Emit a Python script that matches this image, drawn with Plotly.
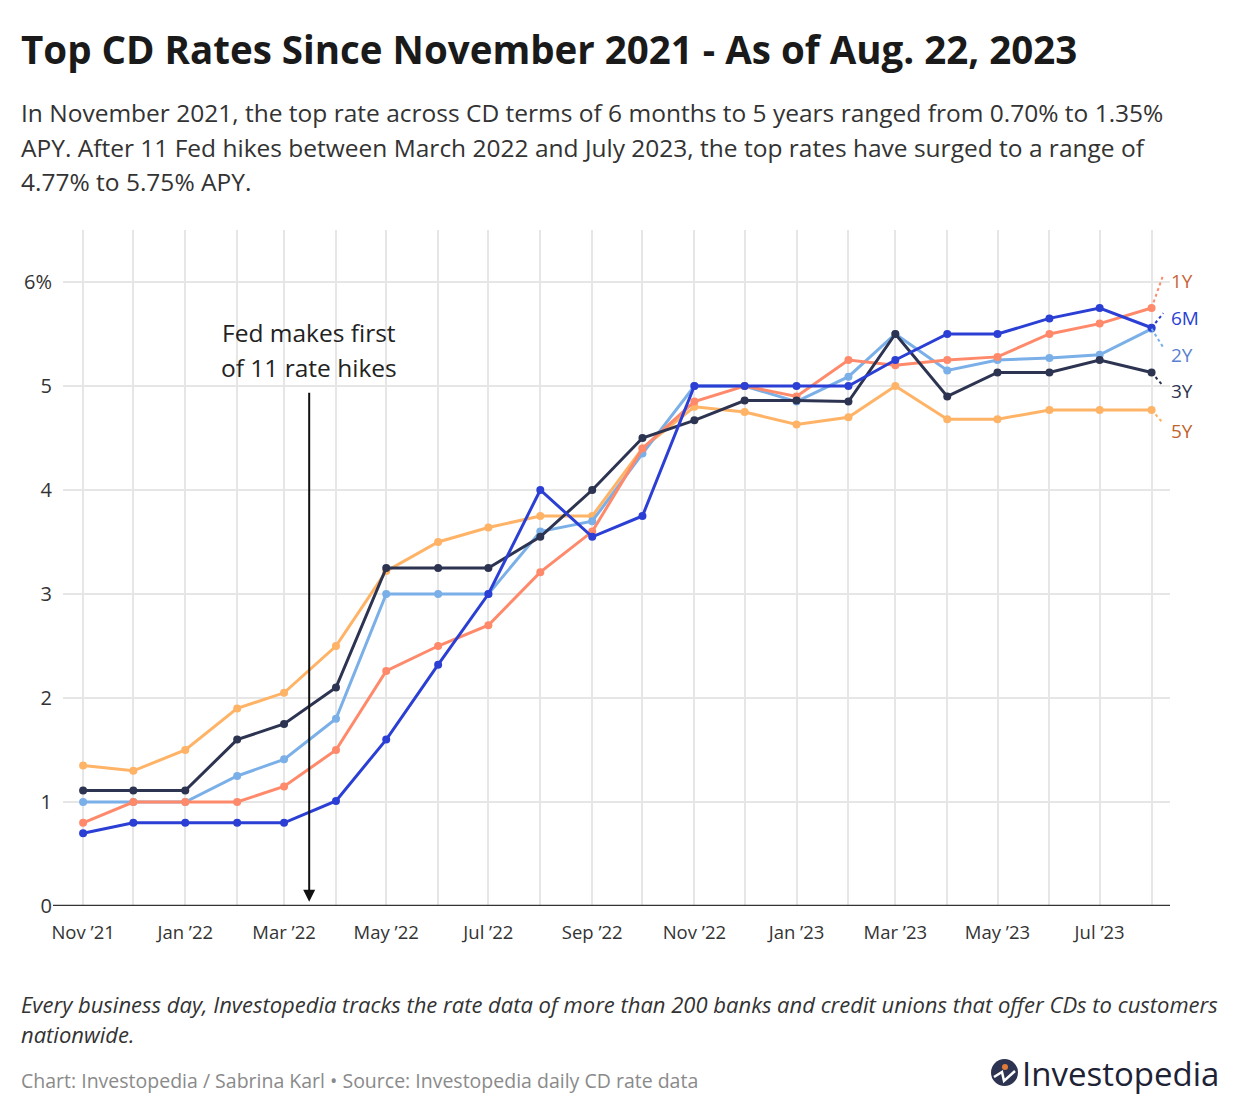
import plotly.graph_objects as go

# ---------------- data ----------------
months = ["2021-11-01", "2021-12-01", "2022-01-01", "2022-02-01", "2022-03-01", "2022-04-01",
          "2022-05-01", "2022-06-01", "2022-07-01", "2022-08-01", "2022-09-01", "2022-10-01",
          "2022-11-01", "2022-12-01", "2023-01-01", "2023-02-01", "2023-03-01", "2023-04-01",
          "2023-05-01", "2023-06-01", "2023-07-01", "2023-08-01"]

rate_6m = [0.70, 0.80, 0.80, 0.80, 0.80, 1.01, 1.60, 2.32, 3.00, 4.00, 3.55, 3.75,
           5.00, 5.00, 5.00, 5.00, 5.25, 5.50, 5.50, 5.65, 5.75, 5.56]
rate_1y = [0.80, 1.00, 1.00, 1.00, 1.15, 1.50, 2.26, 2.50, 2.70, 3.21, 3.60, 4.40,
           4.85, 5.00, 4.90, 5.25, 5.20, 5.25, 5.28, 5.50, 5.60, 5.75]
rate_2y = [1.00, 1.00, 1.00, 1.25, 1.41, 1.80, 3.00, 3.00, 3.00, 3.60, 3.70, 4.35,
           5.00, 5.00, 4.85, 5.09, 5.50, 5.15, 5.25, 5.27, 5.30, 5.55]
rate_3y = [1.11, 1.11, 1.11, 1.60, 1.75, 2.10, 3.25, 3.25, 3.25, 3.55, 4.00, 4.50,
           4.67, 4.86, 4.86, 4.85, 5.50, 4.90, 5.13, 5.13, 5.25, 5.13]
rate_5y = [1.35, 1.30, 1.50, 1.90, 2.05, 2.50, 3.22, 3.50, 3.64, 3.75, 3.75, 4.40,
           4.80, 4.75, 4.63, 4.70, 5.00, 4.68, 4.68, 4.77, 4.77, 4.77]

series_names = ["1Y", "6M", "2Y", "3Y", "5Y"]
x_tick_labels = ["Nov ’21", "", "Jan ’22", "", "Mar ’22", "", "May ’22", "", "Jul ’22", "",
                 "Sep ’22", "", "Nov ’22", "", "Jan ’23", "", "Mar ’23", "", "May ’23", "",
                 "Jul ’23", ""]
y_tick_vals = [0, 1, 2, 3, 4, 5, 6]
y_tick_labels = ["0", "1", "2", "3", "4", "5", "6%"]

fed_hike_date = "2022-03-16"
label_end_date = "2023-08-08"

title_text = "Top CD Rates Since November 2021 - As of Aug. 22, 2023"
subtitle_lines = [
    "In November 2021, the top rate across CD terms of 6 months to 5 years ranged from 0.70% to 1.35%",
    "APY. After 11 Fed hikes between March 2022 and July 2023, the top rates have surged to a range of",
    "4.77% to 5.75% APY.",
]
note_lines = [
    "Every business day, Investopedia tracks the rate data of more than 200 banks and credit unions that offer CDs to customers",
    "nationwide.",
]
fed_lines = ["Fed makes first", "of 11 rate hikes"]
credit_text = "Chart: Investopedia / Sabrina Karl • Source: Investopedia daily CD rate data"

# ---------------- styling ----------------
FONT = "Open Sans, sans-serif"
W, H = 1240, 1120
L, R, T, B = 63, 70, 230, 214
PW, PH = W - L - R, H - T - B


def px(x):
    return (x - L) / PW


def py(y):
    return (H - B - y) / PH


line_colors = {"6M": "#2b3fd4", "1Y": "#ff8a6b", "2Y": "#7aafe8", "3Y": "#2d3451", "5Y": "#ffb366"}
label_colors = {"6M": "#2b3fd4", "1Y": "#c8653a", "2Y": "#5b7fcf", "3Y": "#2d3451", "5Y": "#c0642e"}
label_y = {"1Y": 6.01, "6M": 5.65, "2Y": 5.30, "3Y": 4.95, "5Y": 4.57}
conn_end_y = {"1Y": 6.07, "6M": 5.70, "2Y": 5.37, "3Y": 5.00, "5Y": 4.64}

data = {"6M": rate_6m, "1Y": rate_1y, "2Y": rate_2y, "3Y": rate_3y, "5Y": rate_5y}
draw_order = ["5Y", "2Y", "1Y", "3Y", "6M"]

fig = go.Figure()
for name in draw_order:
    fig.add_trace(go.Scatter(
        x=months, y=data[name], mode="lines+markers", name=name,
        line=dict(color=line_colors[name], width=3),
        marker=dict(color=line_colors[name], size=8),
        hoverinfo="skip", showlegend=False, cliponaxis=False,
    ))

shapes = []
annotations = []

# connectors + end labels
for name in series_names:
    shapes.append(dict(type="line", xref="x", yref="y",
                       x0=months[-1], y0=data[name][-1], x1=label_end_date, y1=conn_end_y[name],
                       line=dict(color=line_colors[name], width=2, dash="dot")))
    annotations.append(dict(xref="paper", yref="y", x=px(1169), y=label_y[name],
                            xanchor="left", yanchor="middle", showarrow=False,
                            text=name, font=dict(family=FONT, size=19, color=label_colors[name])))

# x-axis baseline extended left
shapes.append(dict(type="line", xref="paper", yref="y", x0=px(53), x1=1, y0=0, y1=0,
                   line=dict(color="#333333", width=2.5), layer="above"))

# Fed annotation
for i, t in enumerate(fed_lines):
    annotations.append(dict(xref="x", yref="paper", x=fed_hike_date, y=py(333 + 34 * i), showarrow=False,
                            text=t, xanchor="center", yanchor="middle",
                            font=dict(family=FONT, size=24.5, color="#222222")))
annotations.append(dict(xref="x", yref="y", x=fed_hike_date, y=0.04,
                        axref="x", ayref="y", ax=fed_hike_date, ay=4.95,
                        text="", showarrow=True, arrowhead=2, arrowsize=1.2, arrowwidth=2,
                        arrowcolor="#111111"))

# Titles
annotations.append(dict(xref="paper", yref="paper", x=px(19), y=py(49), xanchor="left", yanchor="middle",
                        showarrow=False, text=f"<b>{title_text}</b>",
                        font=dict(family=FONT, size=38.5, color="#1a1a1a")))
for i, t in enumerate(subtitle_lines):
    annotations.append(dict(xref="paper", yref="paper", x=px(19), y=py(113 + 34 * i), xanchor="left",
                            yanchor="middle", showarrow=False, text=t,
                            font=dict(family=FONT, size=24.5, color="#333333")))
for i, t in enumerate(note_lines):
    annotations.append(dict(xref="paper", yref="paper", x=px(19), y=py(1004 + 30 * i), xanchor="left",
                            yanchor="middle", showarrow=False, text=f"<i>{t}</i>",
                            font=dict(family=FONT, size=22, color="#333333")))
annotations.append(dict(xref="paper", yref="paper", x=px(19), y=py(1080), xanchor="left", yanchor="middle",
                        showarrow=False, text=credit_text,
                        font=dict(family=FONT, size=19.5, color="#8a8a8a")))
# Logo
annotations.append(dict(xref="paper", yref="paper", x=px(1020), y=py(1073), xanchor="left", yanchor="middle",
                        showarrow=False, text="Investopedia",
                        font=dict(family=FONT, size=33, color="#1e2235")))
shapes.append(dict(type="circle", xref="paper", yref="paper",
                   x0=px(991), x1=px(1018), y0=py(1086), y1=py(1059),
                   fillcolor="#2d3451", line=dict(width=0)))
shapes.append(dict(type="circle", xref="paper", yref="paper",
                   x0=px(1002), x1=px(1008), y0=py(1070), y1=py(1064),
                   fillcolor="#e07b39", line=dict(width=0)))
shapes.append(dict(type="path", xref="paper", yref="paper",
                   path=f"M {px(994)},{py(1077)} L {px(1002)},{py(1072)} L {px(1004)},{py(1081)} L {px(1015)},{py(1071)}",
                   line=dict(color="white", width=2.5)))

fig.update_layout(
    width=W, height=H,
    margin=dict(l=L, r=R, t=T, b=B),
    paper_bgcolor="white", plot_bgcolor="white",
    font=dict(family=FONT, color="#333333"),
    shapes=shapes, annotations=annotations,
    hovermode=False,
    xaxis=dict(type="date", range=["2021-10-20", "2023-08-12"],
               tickvals=months, ticktext=x_tick_labels, ticks="",
               showgrid=True, gridcolor="#e6e6e6", gridwidth=2,
               zeroline=False, showline=False,
               tickfont=dict(family=FONT, size=18.5, color="#333333"),
               ticklabelstandoff=13),
    yaxis=dict(range=[0, 6.5], tickvals=y_tick_vals, ticktext=y_tick_labels, ticks="",
               showgrid=True, gridcolor="#e6e6e6", gridwidth=2,
               zeroline=False, showline=False,
               tickfont=dict(family=FONT, size=20, color="#333333"),
               ticklabelstandoff=10),
)

fig.write_html("out.html", config={"displayModeBar": False},
               post_script="document.body.style.margin='0';")
